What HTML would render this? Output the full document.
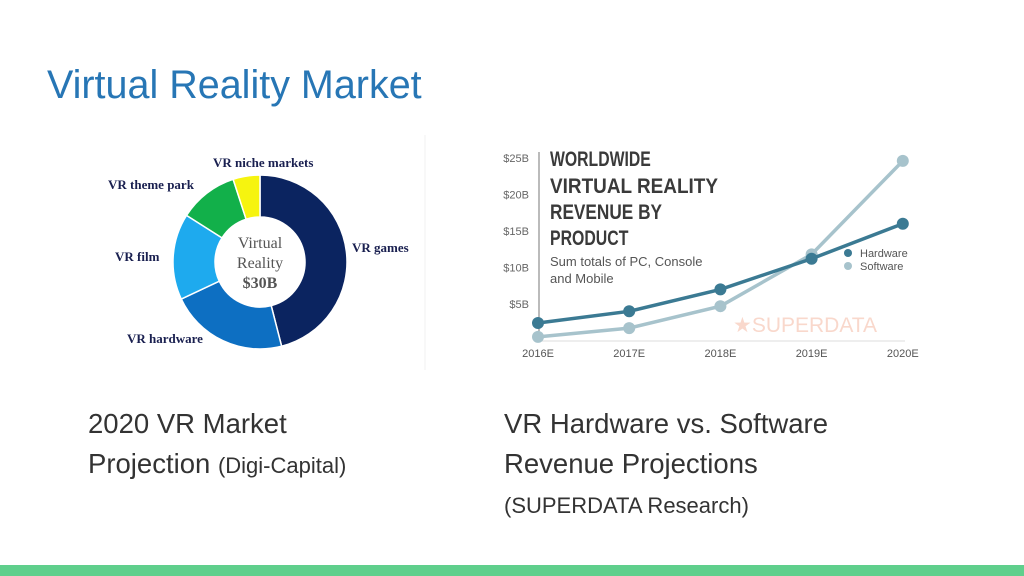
<!DOCTYPE html>
<html><head><meta charset="utf-8"><style>
body{margin:0;width:1024px;height:576px;overflow:hidden;background:#fff;font-family:"Liberation Sans",sans-serif;position:relative}
.t{position:absolute;margin:0}
</style></head><body>
<h1 class="t" style="left:47px;top:63px;font-size:39.5px;font-weight:normal;color:#2776b5">Virtual Reality Market</h1>
<svg style="position:absolute;left:80px;top:135px" width="350" height="235" id="donut">
<line x1="345" y1="0" x2="345" y2="235" stroke="#f2f2f2"/>
</svg>
<svg style="position:absolute;left:0;top:0" width="1024" height="576" id="line"></svg>
<div class="t" style="left:88px;top:404px;font-size:27.5px;line-height:40px;color:#333">2020 VR Market<br>Projection <span style="font-size:22px">(Digi-Capital)</span></div>
<div class="t" style="left:504px;top:404px;font-size:27.5px;line-height:40px;color:#333">VR Hardware vs. Software<br>Revenue Projections<br><span style="font-size:22px;line-height:32px">(SUPERDATA Research)</span></div>
<div class="t" style="left:0;top:565px;width:1024px;height:11px;background:#5fcf8c"></div>
<script>
const segLabels=["VR games","VR hardware","VR film","VR theme park","VR niche markets"];
const segValues=[46,22,16,11,5];
const segColors=["#0b2460","#0d6fc2","#1eaaee","#12b04a","#f6f40f"];
const NS="http://www.w3.org/2000/svg";
function mk(p,t,a){const e=document.createElementNS(NS,t);for(const k in a)e.setAttribute(k,a[k]);p.appendChild(e);return e;}
const d=document.getElementById('donut');
const cx=180,cy=127,R=87,r=45;const tot=segValues.reduce((a,b)=>a+b,0);
let a0=0;
segValues.forEach((v,i)=>{const a1=a0+v/tot*Math.PI*2;
const p=(a,rr)=>[cx+rr*Math.sin(a),cy-rr*Math.cos(a)];
const [x1,y1]=p(a0,R),[x2,y2]=p(a1,R),[x3,y3]=p(a1,r),[x4,y4]=p(a0,r);const lg=a1-a0>Math.PI?1:0;
const e=mk(d,'path',{d:`M${x1},${y1}A${R},${R} 0 ${lg} 1 ${x2},${y2}L${x3},${y3}A${r},${r} 0 ${lg} 0 ${x4},${y4}Z`,fill:segColors[i],stroke:'#fff','stroke-width':1.5});


a0=a1;});
const lp=[[272,117,'start'],[47,208,'start'],[35,126,'start'],[28,54,'start'],[133,32,'start']];
segLabels.forEach((s,i)=>{const t=mk(d,'text',{x:lp[i][0],y:lp[i][1],'font-family':'Liberation Serif,serif','font-size':13,'font-weight':'bold',fill:'#1a2050'});t.textContent=s;

});
["Virtual","Reality","$30B"].forEach((s,i)=>{const t=mk(d,'text',{x:cx,y:113+i*20,'text-anchor':'middle','font-family':'Liberation Serif,serif','font-size':16,fill:'#555','font-weight':i==2?'bold':'normal'});t.textContent=s;

});

const years=["2016E","2017E","2018E","2019E","2020E"];
const hardware=[2.4,4,7,11.2,16];
const software=[0.5,1.7,4.7,11.8,24.6];
const yTicks=[5,10,15,20,25];
const L=document.getElementById('line');
const X=i=>538+i*91.2, Y=v=>340.5-v*7.3;
mk(L,'line',{x1:539,y1:152,x2:539,y2:341,stroke:'#777','stroke-width':1});
mk(L,'line',{x1:539,y1:341,x2:905,y2:341,stroke:'#ddd','stroke-width':1});
yTicks.forEach(v=>{const t=mk(L,'text',{x:529,y:Y(v)+4,'text-anchor':'end','font-size':11,fill:'#666'});t.textContent='$'+v+'B';

});
years.forEach((s,i)=>{const t=mk(L,'text',{x:X(i),y:357,'text-anchor':'middle','font-size':11,fill:'#555'});t.textContent=s;

});
const wm=mk(L,'text',{x:733,y:332,'font-size':21,fill:'#f9d8cc'});wm.textContent='★SUPERDATA';


[["WORLDWIDE",166],["VIRTUAL REALITY",193],["REVENUE BY",219],["PRODUCT",245]].forEach(([s,y])=>{const t=mk(L,'text',{x:550,y:y,'font-size':21,'font-weight':'bold',fill:'#3a3a3a',textLength:s.length*11.2,lengthAdjust:'spacingAndGlyphs'});t.textContent=s;

});
[["Sum totals of PC, Console",266],["and Mobile",283]].forEach(([s,y])=>{const t=mk(L,'text',{x:550,y:y,'font-size':13,fill:'#555'});t.textContent=s;

});
function series(vals,col,name){const pts=vals.map((v,i)=>X(i)+','+Y(v)).join(' ');
const pl=mk(L,'polyline',{points:pts,fill:'none',stroke:col,'stroke-width':3.5});


vals.forEach((v,i)=>{const c=mk(L,'circle',{cx:X(i),cy:Y(v),r:6,fill:col});

});}
series(software,'#a7c3cc','software');
series(hardware,'#3b7a93','hardware');
[["Hardware",'#3b7a93',257],["Software",'#a7c3cc',270]].forEach(([s,c,y])=>{const ci=mk(L,'circle',{cx:848,cy:y-4,r:4,fill:c});


const t=mk(L,'text',{x:860,y:y,'font-size':11,fill:'#555'});t.textContent=s;

});
</script>
</body></html>
